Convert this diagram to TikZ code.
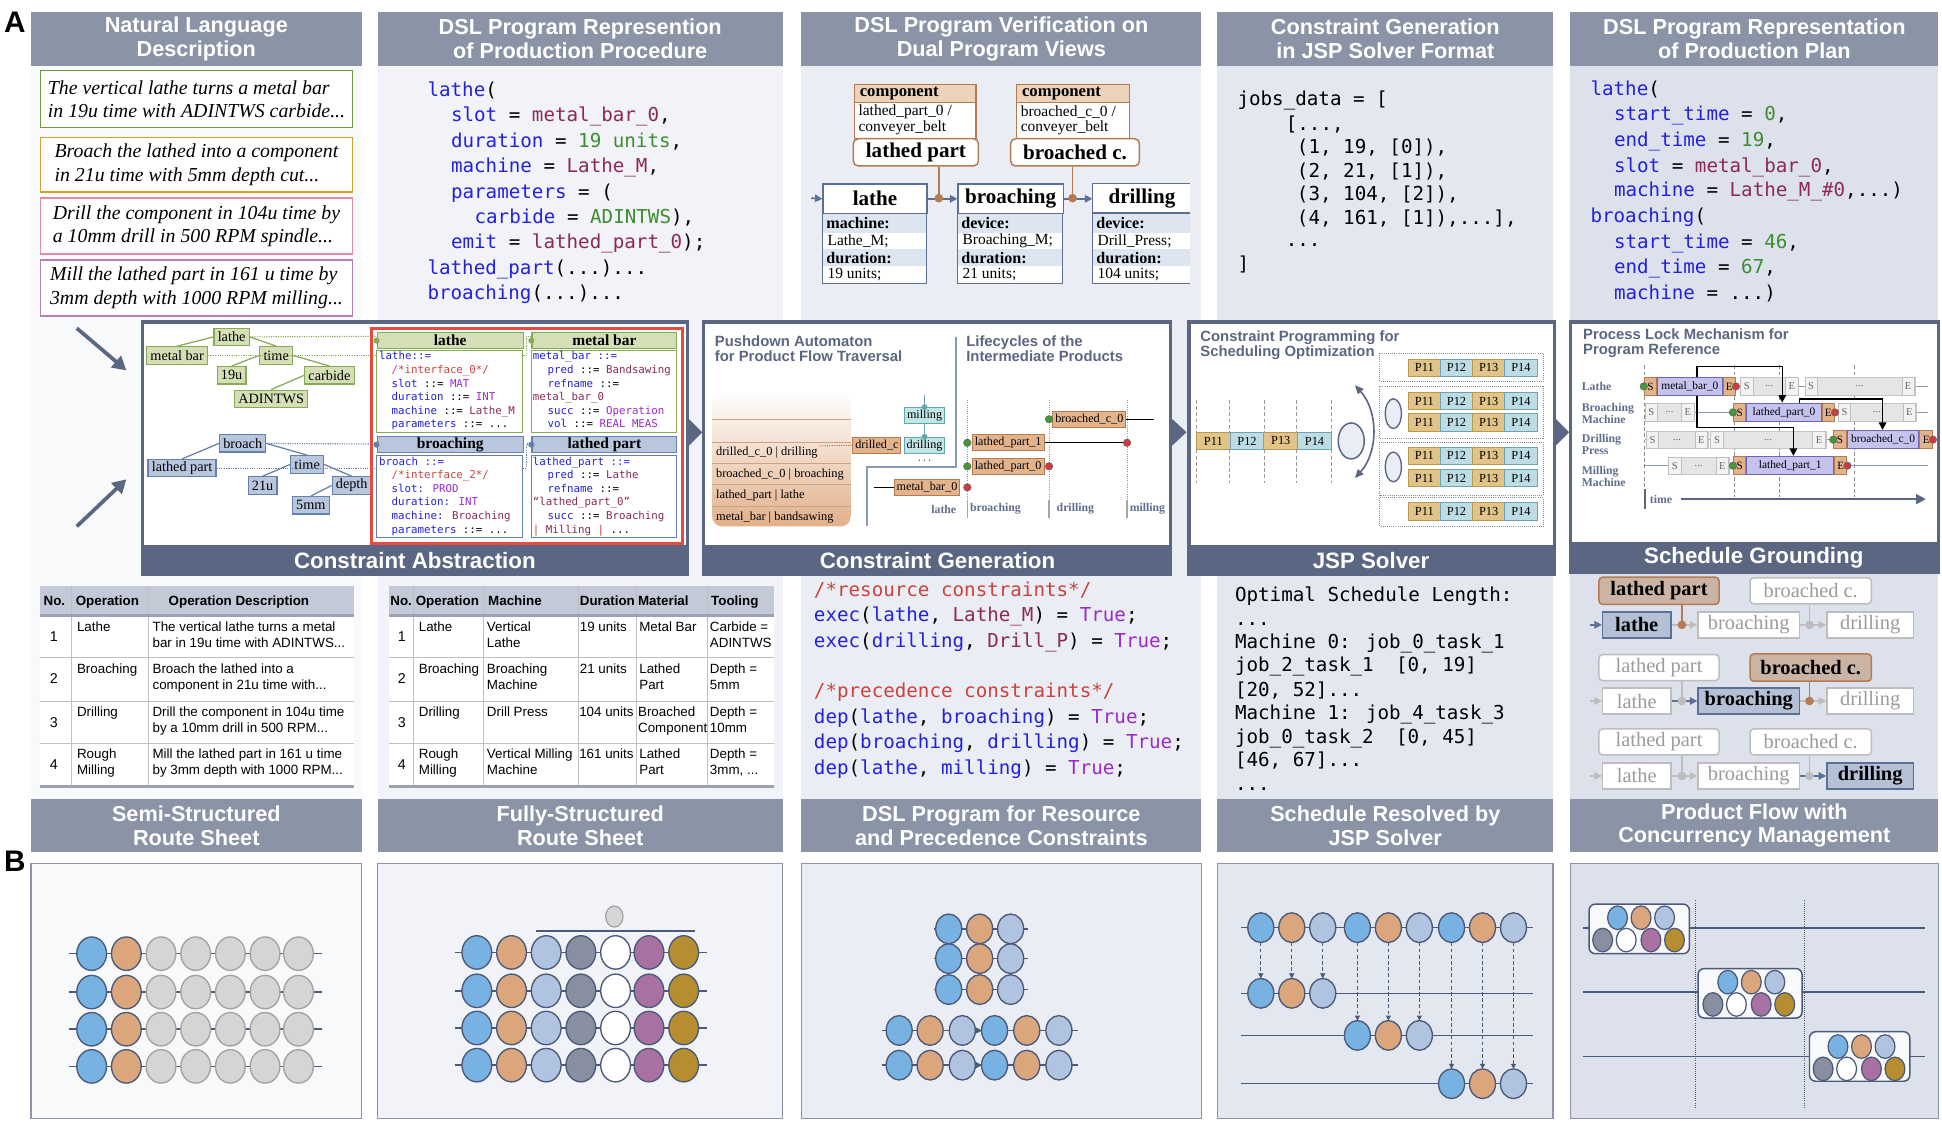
\documentclass[tikz,border=0pt]{standalone}
\usepackage{fontspec}
\setmainfont{Liberation Serif}
\newfontfamily\hsans{Liberation Sans}
\newfontfamily\mono{DejaVu Sans Mono}
\usetikzlibrary{arrows.meta,shapes.geometric,calc}
\newcommand\fsz[2]{\fontsize{#1}{#2}\selectfont}
\definecolor{hdr}{HTML}{8A94A6}
\definecolor{dark}{HTML}{5B6782}
\definecolor{bgA}{HTML}{F8F9FB}
\definecolor{bgB}{HTML}{F1F3F8}
\definecolor{bgC}{HTML}{EAEDF4}
\definecolor{bgD}{HTML}{E3E7EF}
\definecolor{bgE}{HTML}{DCE1EB}
\definecolor{kw}{HTML}{2222DD}
\definecolor{val}{HTML}{8A2A55}
\definecolor{num}{HTML}{3E8C30}
\definecolor{cmt}{HTML}{C8443C}
\definecolor{tru}{HTML}{9A2BC8}
\definecolor{gfill}{HTML}{D5DFB6}
\definecolor{gbd}{HTML}{86AA58}
\definecolor{bfill}{HTML}{B9C7DE}
\definecolor{bbd}{HTML}{6580AC}
\definecolor{tanf}{HTML}{E3B48C}
\definecolor{tanl}{HTML}{EDD3BA}
\definecolor{brn}{HTML}{B47B52}
\definecolor{teal}{HTML}{C2E5E6}
\definecolor{teald}{HTML}{62A6AF}
\definecolor{purf}{HTML}{C6C2EE}
\definecolor{purd}{HTML}{6D66B5}
\definecolor{pg}{HTML}{E2C488}
\definecolor{pgd}{HTML}{B89A52}
\definecolor{pt}{HTML}{BCDDE3}
\definecolor{ptd}{HTML}{6FA3B3}
\definecolor{flowc}{HTML}{5B7094}
\definecolor{rowf}{HTML}{DDE5F1}
\definecolor{pbd}{HTML}{5B7094}
\definecolor{thead}{HTML}{C3C9D6}
\definecolor{tline}{HTML}{9AA2B4}
\definecolor{cblue}{HTML}{78B2E3}
\definecolor{ctan}{HTML}{DCA67C}
\definecolor{cgray}{HTML}{D5D5D5}
\definecolor{clb}{HTML}{B0C3E1}
\definecolor{cslate}{HTML}{878FA0}
\definecolor{cpur}{HTML}{A871A2}
\definecolor{cgold}{HTML}{B68E30}
\definecolor{cbd}{HTML}{4C5A7A}
\definecolor{lgray}{HTML}{A3A3A3}
\definecolor{ngreen}{HTML}{3F9B35}
\definecolor{nred}{HTML}{D43838}
\definecolor{redbox}{HTML}{E84A3E}
\definecolor{lab}{HTML}{5F6E8C}
\definecolor{gtxt}{HTML}{9B9B9B}
\definecolor{gbord}{HTML}{BDBDBD}
\definecolor{tagf}{HTML}{CBB4A4}
\definecolor{pbf}{HTML}{B4C0D5}
\definecolor{nlg}{HTML}{6F9A3A}
\definecolor{nly}{HTML}{D0A030}
\definecolor{nlp}{HTML}{E48AA4}
\definecolor{nlv}{HTML}{B080B8}
\definecolor{sep}{HTML}{8A9AB0}
\definecolor{stk}{HTML}{E2B08A}
\newcommand\prow[4]{%
  \foreach \k/\cf/\cd in {1/pg/pgd,2/pt/ptd,3/pg/pgd,4/pt/ptd}{%
    \node[pcell, fill=\cf, draw=\cd, minimum width=#4] (#1\k) at ({#2+(\k-0.5)*#4},#3) {P1\k};
  }}
\newcommand\seblk[4]{%
  \node[gblk, minimum width={#3-#2}, anchor=west] (#1) at (#2,#4) {};
  \node[sebox, anchor=west] (#1s) at (#2,#4) {S};
  \node[sebox, anchor=east] (#1e) at (#3,#4) {E};
  \node[seln] (#1d) at ({(#2+#3)/2},#4) {...};}
\newcommand\task[5]{%
  \node[tsk, minimum width={#3-#2-20}, anchor=west] (#1) at ({#2+10},#4) {#5};
  \node[tbe, anchor=east] (#1s) at (#1.west) {S};
  \node[tbe, anchor=west] (#1e) at (#1.east) {E};
  \filldraw[fill=ngreen, draw=black!60, line width=0.5pt] (#1s.west) circle (3pt);
  \filldraw[fill=nred, draw=black!60, line width=0.5pt] (#1e.east) circle (3pt);}
\begin{document}
\begin{tikzpicture}[x=1pt,y=-1pt,
  hdrbox/.style={fill=hdr, text=white, font=\hsans\bfseries\fsz{17.5}{19}, align=center, inner sep=0pt, minimum height=43pt},
  ftr/.style={text=white, font=\hsans\bfseries\fsz{18}{19}, inner sep=0pt},
  nlbox/.style={draw, line width=1.3pt, fill=white, minimum width=252pt, align=left, font=\itshape\fsz{16}{19}, inner xsep=1pt, anchor=west},
  cl/.style={anchor=base west, inner sep=0pt, font=\mono\fsz{15.5}{20}},
  tc/.style={anchor=base west, inner sep=0pt, font=\mono\fsz{8.7}{10}},
  tt/.style={anchor=base west, inner sep=0pt, font=\hsans\fsz{10.8}{12}},
  th/.style={anchor=base west, inner sep=0pt, font=\hsans\bfseries\fsz{10.8}{12}},
  gnode/.style={draw=gbd, fill=gfill, line width=1pt, font=\fsz{11.5}{12}, inner xsep=3pt, inner ysep=0pt, minimum height=14pt},
  bnode/.style={draw=bbd, fill=bfill, line width=1pt, font=\fsz{11.5}{12}, inner xsep=3pt, inner ysep=0pt, minimum height=14pt},
  gline/.style={gbd, line width=1pt},
  bline/.style={bbd, line width=1pt},
  gdot/.style={gbd, line width=0.9pt, densely dotted},
  bdot/.style={bbd, line width=0.9pt, densely dotted},
  cellh/.style={line width=1pt, inner sep=0pt, minimum height=13pt, font=\bfseries\fsz{12.5}{13}, anchor=north west},
  pboxt/.style={draw=pbd, fill=white, line width=1pt, minimum height=24pt, inner sep=0pt, font=\bfseries\fsz{17}{18}, anchor=north west},
  plab/.style={anchor=west, inner sep=0pt, font=\bfseries\fsz{13}{14}},
  pval/.style={anchor=west, inner sep=0pt, font=\fsz{12.5}{13}},
  flowa/.style={draw=flowc, line width=1.3pt, -{Triangle[length=6pt,width=6pt]}},
  tag/.style={draw=brn, line width=1.2pt, rounded corners=4pt, fill=white, minimum height=22pt, inner sep=0pt, font=\bfseries\fsz{17}{18}},
  brnl/.style={draw=brn, line width=1.2pt},
  lbox/.style={fill=tanf, draw=brn, line width=0.8pt, inner xsep=2pt, inner ysep=0pt, minimum height=13pt, font=\fsz{9.8}{11}},
  tbox/.style={fill=teal, draw=teald, line width=0.8pt, inner xsep=2pt, inner ysep=0pt, minimum height=13pt, font=\fsz{9.8}{11}},
  stxt/.style={anchor=west, inner sep=0pt, font=\fsz{10}{11}},
  ttl/.style={anchor=west, inner sep=0pt, align=left, text=dark, font=\hsans\bfseries\fsz{12}{12.5}},
  llab/.style={inner sep=0pt, text=lab, font=\bfseries\fsz{9.5}{10}},
  pcell/.style={line width=0.8pt, minimum height=14pt, inner sep=0pt, font=\fsz{10}{11}},
  gblk/.style={fill=black!10, draw=black!22, line width=0.6pt, minimum height=14pt, inner sep=0pt},
  sebox/.style={fill=black!5, draw=black!25, line width=0.6pt, minimum height=14pt, minimum width=10pt, inner sep=0pt, font=\fsz{8.5}{9}, text=black!60},
  seln/.style={inner sep=0pt, font=\fsz{8.5}{9}, text=black!60},
  tsk/.style={fill=purf, draw=purd, line width=0.8pt, minimum height=15pt, inner sep=0pt, font=\fsz{9.2}{10}},
  tbe/.style={fill=tanf, draw=brn, line width=0.8pt, minimum height=15pt, minimum width=10pt, inner sep=0pt, font=\fsz{9}{10}},
  rlab/.style={anchor=west, inner sep=0pt, align=left, text=lab, font=\bfseries\fsz{9.5}{9.5}},
  lock/.style={draw=black, line width=1.2pt, -{Triangle[length=6pt,width=6pt]}},
  tagon/.style={draw=brn, fill=tagf, line width=1.2pt, rounded corners=3pt, font=\bfseries\fsz{16.5}{17}, minimum height=22pt, inner sep=0pt},
  tagoff/.style={draw=gbord, fill=white, line width=1.2pt, rounded corners=3pt, font=\fsz{16.5}{17}, text=gtxt, minimum height=21pt, inner sep=0pt},
  boxon/.style={draw=pbd, fill=pbf, line width=1.2pt, font=\bfseries\fsz{16.5}{17}, minimum height=21pt, inner sep=0pt},
  boxoff/.style={draw=gbord, fill=white, line width=1.2pt, font=\fsz{16.5}{17}, text=gtxt, minimum height=21pt, inner sep=0pt},
  bla/.style={draw=flowc, line width=1.2pt, -{Triangle[length=6pt,width=6pt]}},
  gla/.style={draw=gbord, line width=1.2pt, -{Triangle[length=6pt,width=6pt]}},
  grl/.style={draw=gbord, line width=1.2pt},
]
\useasboundingbox (0,0) rectangle (1568,911);
\fill[white] (0,0) rectangle (1568,911);

% column backgrounds
\fill[bgA] (25,53) rectangle (292,645);
\fill[bgB] (305,53) rectangle (632,645);
\fill[bgC] (647,53) rectangle (970,645);
\fill[bgD] (983,53) rectangle (1254,645);
\fill[bgE] (1268,53) rectangle (1565,645);

% labels A B
\node[font=\hsans\bfseries\fsz{24}{24}, inner sep=0pt] (labA) at (12,18) {A};
\node[font=\hsans\bfseries\fsz{24}{24}, inner sep=0pt] (labB) at (12,695) {B};

% top headers
\node[hdrbox, minimum width=267pt] (h1) at (158.5,31.5) {Natural Language\\Description};
\node[hdrbox, minimum width=327pt] (h2) at (468.5,31.5) {DSL Program Represention\\of Production Procedure};
\node[hdrbox, minimum width=323pt] (h3) at (808.5,31.5) {DSL Program Verification on\\Dual Program Views};
\node[hdrbox, minimum width=271pt] (h4) at (1118.5,31.5) {Constraint Generation\\in JSP Solver Format};
\node[hdrbox, minimum width=297pt] (h5) at (1416.5,31.5) {DSL Program Representation\\of Production Plan};

% bottom headers
\node[hdrbox, minimum width=267pt] (g1) at (158.5,666.5) {Semi-Structured\\Route Sheet};
\node[hdrbox, minimum width=327pt] (g2) at (468.5,666.5) {Fully-Structured\\Route Sheet};
\node[hdrbox, minimum width=323pt] (g3) at (808.5,666.5) {DSL Program for Resource\\and Precedence Constraints};
\node[hdrbox, minimum width=271pt] (g4) at (1118.5,666.5) {Schedule Resolved by\\JSP Solver};
\node[hdrbox, minimum width=297pt] (g5) at (1416.5,666.5) {Product Flow with\\Concurrency Management};

% ---------- panel 1 natural language
\node[nlbox, draw=nlg, minimum height=46pt] (n1) at (32,80) {The vertical lathe turns a metal bar\\in 19u time with ADINTWS carbide...};
\node[nlbox, draw=nly, minimum height=44pt] (n2) at (32,133) {Broach the lathed into a component\\in 21u time with 5mm depth cut...};
\node[nlbox, draw=nlp, minimum height=45pt] (n3) at (32,182.5) {Drill the component in 104u time by\\a 10mm drill in 500 RPM spindle...};
\node[nlbox, draw=nlv, minimum height=45pt] (n4) at (32,232.5) {Mill the lathed part in 161 u time by\\3mm depth with 1000 RPM milling...};

% ---------- panel 2 code
\node[cl] (c2a) at (345,78) {\textcolor{kw}{lathe}(};
\node[cl] (c2b) at (364,98.5) {\textcolor{kw}{slot} = \textcolor{val}{metal\_bar\_0},};
\node[cl] (c2c) at (364,119) {\textcolor{kw}{duration} = \textcolor{num}{19 units},};
\node[cl] (c2d) at (364,139.5) {\textcolor{kw}{machine} = \textcolor{val}{Lathe\_M},};
\node[cl] (c2e) at (364,160) {\textcolor{kw}{parameters} = (};
\node[cl] (c2f) at (383,180.5) {\textcolor{kw}{carbide} = \textcolor{num}{ADINTWS}),};
\node[cl] (c2g) at (364,201) {\textcolor{kw}{emit} = \textcolor{val}{lathed\_part\_0});};
\node[cl] (c2h) at (345,221.5) {\textcolor{kw}{lathed\_part}(...)...};
\node[cl] (c2i) at (345,242) {\textcolor{kw}{broaching}(...)...};

% ---------- panel 3 verification
\draw[brn, line width=0.9pt, fill=white] (690,68) rectangle (788,112);
\draw[brn, line width=0.9pt, fill=tanl] (690,68) rectangle (788,83);
\node[anchor=west, inner sep=0pt, font=\bfseries\fsz{13.5}{14}] (c1h) at (694,75.5) {component};
\node[anchor=west, inner sep=0pt, font=\fsz{12.5}{13}] (c1a) at (693,90.5) {lathed\_part\_0 /};
\node[anchor=west, inner sep=0pt, font=\fsz{12.5}{13}] (c1b) at (693,103) {conveyer\_belt};
\draw[brn, line width=0.9pt, fill=white] (821,68) rectangle (912,112);
\draw[brn, line width=0.9pt, fill=tanl] (821,68) rectangle (912,83);
\node[anchor=west, inner sep=0pt, font=\bfseries\fsz{13.5}{14}] (c2hh) at (825,75.5) {component};
\node[anchor=west, inner sep=0pt, font=\fsz{12.5}{13}] (c2aa) at (824,90.5) {broached\_c\_0 /};
\node[anchor=west, inner sep=0pt, font=\fsz{12.5}{13}] (c2bb) at (824,103) {conveyer\_belt};
\node[tag, minimum width=101pt] (lp) at (739.5,123) {lathed part};
\node[tag, minimum width=104pt] (bc) at (868,123) {broached c.};

% lathe box
\fill[rowf] (664,172) rectangle (748,188);
\fill[rowf] (664,201) rectangle (748,215);
\fill[white] (664,188) rectangle (748,201);
\fill[white] (664,215) rectangle (748,229);
\draw[pbd, line width=1pt] (664,172) rectangle (748,229);
\node[pboxt, minimum width=84pt] (pl) at (664,148) {lathe};
\node[plab] (pl1) at (667,180) {machine:};
\node[pval] (pl2) at (668,194.5) {Lathe\_M;};
\node[plab] (pl3) at (667,208) {duration:};
\node[pval] (pl4) at (668,222) {19 units;};
% broaching box
\fill[rowf] (773,172) rectangle (858,188);
\fill[rowf] (773,201) rectangle (858,215);
\fill[white] (773,188) rectangle (858,201);
\fill[white] (773,215) rectangle (858,229);
\draw[pbd, line width=1pt] (773,172) rectangle (858,229);
\node[pboxt, minimum width=85pt] (pb) at (773,148) {broaching};
\node[plab] (pb1) at (776,180) {device:};
\node[pval] (pb2) at (777,194.5) {Broaching\_M;};
\node[plab] (pb3) at (776,208) {duration:};
\node[pval] (pb4) at (777,222) {21 units;};
% drilling box (cut at right)
\fill[rowf] (882,172) rectangle (961,188);
\fill[rowf] (882,201) rectangle (961,215);
\fill[white] (882,148) rectangle (961,172);
\fill[white] (882,188) rectangle (961,201);
\fill[white] (882,215) rectangle (961,229);
\draw[pbd, line width=1pt] (961,148) -- (882,148) -- (882,229) -- (961,229);
\draw[pbd, line width=1pt] (882,172) -- (961,172);
\node[pboxt, draw=none, fill=none, minimum width=79pt] (pd) at (882,148) {drilling};
\node[plab] (pd1) at (885,180) {device:};
\node[pval] (pd2) at (886,194.5) {Drill\_Press;};
\node[plab] (pd3) at (885,208) {duration:};
\node[pval] (pd4) at (886,222) {104 units;};
\coordinate (in3) at (655,160);
\coordinate (j1) at (758,160);
\coordinate (j2) at (866,160);
\draw[flowa] (in3) -- (pl.west);
\draw[flowa] (pl.east) -- (pb.west);
\draw[flowa] (pb.east) -- (pd.west);
\draw[brnl] (j1 |- lp.south) -- (j1);
\draw[brnl] (j2 |- bc.south) -- (j2);
\fill[brn] (j1) circle (3.5pt);
\fill[brn] (j2) circle (3.5pt);

% ---------- panel 4 code
\node[cl] (c4a) at (999,85) {jobs\_data = [};
\node[cl] (c4b) at (1038,105) {[...,};
\node[cl] (c4c) at (1047,124) {(1, 19, [0]),};
\node[cl] (c4d) at (1047,143) {(2, 21, [1]),};
\node[cl] (c4e) at (1047,162) {(3, 104, [2]),};
\node[cl] (c4f) at (1047,181) {(4, 161, [1]),...],};
\node[cl] (c4g) at (1038,199) {...};
\node[cl] (c4h) at (999,218) {]};

% ---------- panel 5 code
\node[cl] (c5a) at (1284,77) {\textcolor{kw}{lathe}(};
\node[cl] (c5b) at (1303,97.5) {\textcolor{kw}{start\_time} = \textcolor{num}{0},};
\node[cl] (c5c) at (1303,118) {\textcolor{kw}{end\_time} = \textcolor{num}{19},};
\node[cl] (c5d) at (1303,139) {\textcolor{kw}{slot} = \textcolor{val}{metal\_bar\_0},};
\node[cl] (c5e) at (1303,159) {\textcolor{kw}{machine} = \textcolor{val}{Lathe\_M\_\#0},...)};
\node[cl] (c5f) at (1284,180) {\textcolor{kw}{broaching}(};
\node[cl] (c5g) at (1303,200.5) {\textcolor{kw}{start\_time} = \textcolor{num}{46},};
\node[cl] (c5h) at (1303,220.5) {\textcolor{kw}{end\_time} = \textcolor{num}{67},};
\node[cl] (c5i) at (1303,241.5) {\textcolor{kw}{machine} = ...)};

% ---------- left arrows
\coordinate (la1) at (62,265);
\coordinate (la2) at (102,299);
\coordinate (la3) at (62,425);
\coordinate (la4) at (102,387);
\draw[dark, line width=3pt, -{Triangle[length=11pt,width=12pt]}] (la1) -- (la2);
\draw[dark, line width=3pt, -{Triangle[length=11pt,width=12pt]}] (la3) -- (la4);

% ---------- middle box 1: Constraint Abstraction
\draw[dark, line width=2.5pt, fill=white] (115,260) rectangle (555,464);
\fill[dark] (115,440) rectangle (555,465);
\node[ftr] (f1) at (335,452.5) {Constraint Abstraction};
% trees
\node[gnode] (tlathe) at (187,272) {lathe};
\node[gnode] (tmetal) at (143,287) {metal bar};
\node[gnode] (ttime) at (223,287) {time};
\node[gnode] (t19) at (187,303) {19u};
\node[gnode] (tcarb) at (266,303) {carbide};
\node[gnode] (tadin) at (219,322) {ADINTWS};
\node[bnode] (tbroach) at (196,358) {broach};
\node[bnode] (tlp) at (147,378) {lathed part};
\node[bnode] (ttime2) at (248,375) {time};
\node[bnode] (t21) at (212,392) {21u};
\node[bnode] (tdepth) at (284,392) {depth};
\node[bnode] (t5) at (251,408) {5mm};
\draw[gline] (tlathe.west) -- (tmetal.north);
\draw[gline] (tlathe.east) -- (ttime.north);
\draw[gline] (ttime.west) -- (t19.north);
\draw[gline] (ttime.east) -- (tcarb.north);
\draw[gline] (tcarb.west) -- (tadin.north);
\draw[bline] (tbroach.west) -- (tlp.north);
\draw[bline] (tbroach.east) -- (ttime2.north);
\draw[bline] (ttime2.west) -- (t21.north);
\draw[bline] (ttime2.east) -- (tdepth.north);
\draw[bline] (tdepth.west) -- (t5.north);
% dotted links
\coordinate (dk1) at (425,287);
\coordinate (dk2) at (425,271.5);
\coordinate (dk3) at (425,378);
\coordinate (dk4) at (425,358.5);
\draw[gdot] (tlathe.east) -- (305,271.5);
\draw[gdot] (tmetal.east) -- (dk1) -- (dk2) -- (429,271.5);
\draw[bdot] (tbroach.east) -- (305,358.5);
\draw[bdot] (tlp.east) -- (dk3) -- (dk4) -- (429,358.5);
% cells
\draw[gbd, line width=1pt, fill=white] (304,283) rectangle (422,349);
\draw[gbd, line width=1pt, fill=white] (429,283) rectangle (546,349);
\draw[bbd, line width=1pt, fill=white] (304,368) rectangle (422,434);
\draw[bbd, line width=1pt, fill=white] (429,368) rectangle (546,434);
\node[cellh, draw=gbd, fill=gfill, minimum width=118pt] (ch1) at (304,268) {lathe};
\node[cellh, draw=gbd, fill=gfill, minimum width=117pt] (ch2) at (429,268) {metal bar};
\node[cellh, draw=bbd, fill=bfill, minimum width=118pt] (ch3) at (304,352) {broaching};
\node[cellh, draw=bbd, fill=bfill, minimum width=117pt] (ch4) at (429,352) {lathed part};
\fill[gbd] (ch1.west) circle (2.5pt);
\fill[gbd] (ch2.west) circle (2.5pt);
\fill[bbd] (ch3.west) circle (2.5pt);
\fill[bbd] (ch4.west) circle (2.5pt);
\draw[redbox, line width=2.5pt] (300,265) rectangle (551,439);
% tiny code
\node[tc] (ka1) at (306,290.5) {\textcolor{kw}{lathe::=}};
\node[tc] (ka2) at (316,301.5) {\textcolor{cmt}{/*interface\_0*/}};
\node[tc] (ka3) at (316,312.5) {\textcolor{kw}{slot} ::= \textcolor{tru}{MAT}};
\node[tc] (ka4) at (316,323.5) {\textcolor{kw}{duration} ::= \textcolor{tru}{INT}};
\node[tc] (ka5) at (316,334.5) {\textcolor{kw}{machine} ::= \textcolor{val}{Lathe\_M}};
\node[tc] (ka6) at (316,345.5) {\textcolor{kw}{parameters} ::= ...};
\node[tc] (kb1) at (430,290.5) {\textcolor{kw}{metal\_bar ::=}};
\node[tc] (kb2) at (442,301.5) {\textcolor{kw}{pred} ::= \textcolor{val}{Bandsawing}};
\node[tc] (kb3) at (442,312.5) {\textcolor{kw}{refname} ::=};
\node[tc] (kb4) at (430,323.5) {\textcolor{val}{metal\_bar\_0}};
\node[tc] (kb5) at (442,334.5) {\textcolor{kw}{succ} ::= \textcolor{tru}{Operation}};
\node[tc] (kb6) at (442,345.5) {\textcolor{kw}{vol} ::= \textcolor{tru}{REAL MEAS}};
\node[tc] (kc1) at (306,375.5) {\textcolor{kw}{broach ::=}};
\node[tc] (kc2) at (316,386.5) {\textcolor{cmt}{/*interface\_2*/}};
\node[tc] (kc3) at (316,397.5) {\textcolor{kw}{slot:} \textcolor{tru}{PROD}};
\node[tc] (kc4) at (316,408.5) {\textcolor{kw}{duration:} \textcolor{tru}{INT}};
\node[tc] (kc5) at (316,419.5) {\textcolor{kw}{machine:} \textcolor{val}{Broaching}};
\node[tc] (kc6) at (316,430.5) {\textcolor{kw}{parameters} ::= ...};
\node[tc] (kd1) at (430,375.5) {\textcolor{kw}{lathed\_part ::=}};
\node[tc] (kd2) at (442,386.5) {\textcolor{kw}{pred} ::= \textcolor{val}{Lathe}};
\node[tc] (kd3) at (442,397.5) {\textcolor{kw}{refname} ::=};
\node[tc] (kd4) at (430,408.5) {\textcolor{val}{“lathed\_part\_0”}};
\node[tc] (kd5) at (442,419.5) {\textcolor{kw}{succ} ::= \textcolor{val}{Broaching}};
\node[tc] (kd6) at (430,430.5) {\textcolor{cmt}{|} \textcolor{val}{Milling} \textcolor{cmt}{|} ...};

% ---------- middle box 2: Constraint Generation
\draw[dark, line width=2.5pt, fill=white] (568,260) rectangle (945,464);
\fill[dark] (568,440) rectangle (945,465);
\node[ftr] (f2) at (757,452.5) {Constraint Generation};
\node[ttl] (tt1) at (577,281.5) {Pushdown Automaton\\for Product Flow Traversal};
\node[ttl] (tt2) at (780,281.5) {Lifecycles of the\\Intermediate Products};
\draw[sep, line width=1.2pt] (772,272) -- (772,377) -- (700,377) -- (700,425);
\shade[top color=white, bottom color=stk, rounded corners=8pt] (575,316) rectangle (687,425);
\foreach \yy in {339,357,374,391,409}{\draw[brn!70, line width=0.8pt] (575,\yy) -- (687,\yy);}
\node[stxt] (s1) at (578,365.5) {drilled\_c\_0 | drilling};
\node[stxt] (s2) at (578,383) {broached\_c\_0 | broaching};
\node[stxt] (s3) at (578,400) {lathed\_part | lathe};
\node[stxt] (s4) at (578,418) {metal\_bar | bandsawing};
\node[lbox] (dc) at (708,359.5) {drilled\_c};
\node[tbox] (mil) at (746.5,335.5) {milling};
\node[tbox] (drl) at (746.5,359.5) {drilling};
\coordinate (dcs) at (662,360);
\coordinate (mtop) at (746.5,319);
\draw[brn, line width=0.9pt, densely dotted] (dcs) -- (dc.west);
\draw[teald, line width=1pt] (mtop) -- (mil.north);
\draw[teald, line width=1pt] (mil.south) -- (drl.north);
\fill[teald] (mil.north) circle (2.3pt);
\fill[teald] (drl.north) circle (2.3pt);
\node[inner sep=0pt, font=\fsz{9}{9}] (dots1) at (746.5,372) {$\cdots$};
\foreach \xx in {781,847,910}{\draw[black!40, line width=0.8pt, densely dotted] (\xx,323) -- (\xx,405);}
\foreach \xx in {781,847,910}{\draw[black!35, line width=1pt] (\xx,404) -- (\xx,418);}
\node[llab] (ll1) at (762,411) {lathe};
\node[llab, anchor=west] (ll2) at (783,411) {broaching};
\node[llab, anchor=west] (ll3) at (853,411) {drilling};
\node[llab, anchor=west] (ll4) at (912,411) {milling};
\node[lbox] (mb0) at (748.5,393.5) {metal\_bar\_0};
\node[lbox] (lp0) at (814,376.5) {lathed\_part\_0};
\node[lbox] (lp1) at (814,357.5) {lathed\_part\_1};
\node[lbox] (bc0) at (879.5,338.5) {broached\_c\_0};
\coordinate (mbs) at (706,393.5);
\coordinate (lp1e) at (910,357.5);
\coordinate (bc0e) at (932,338.5);
\draw[black, line width=0.9pt] (mbs) -- (mb0.west);
\draw[black, line width=0.9pt] (lp1.east) -- (lp1e);
\draw[black, line width=0.9pt] (bc0.east) -- (bc0e);
\filldraw[fill=nred, draw=black!60, line width=0.5pt] (781,393.5) circle (3pt);
\filldraw[fill=ngreen, draw=black!60, line width=0.5pt] (781,376.5) circle (3pt);
\filldraw[fill=nred, draw=black!60, line width=0.5pt] (847,376.5) circle (3pt);
\filldraw[fill=ngreen, draw=black!60, line width=0.5pt] (781,357.5) circle (3pt);
\filldraw[fill=nred, draw=black!60, line width=0.5pt] (lp1e) circle (3pt);
\filldraw[fill=ngreen, draw=black!60, line width=0.5pt] (847,338.5) circle (3pt);

% ---------- middle box 3: JSP Solver
\draw[dark, line width=2.5pt, fill=white] (960,260) rectangle (1255,464);
\fill[dark] (960,440) rectangle (1255,465);
\node[ftr] (f3) at (1107,452.5) {JSP Solver};
\node[ttl, font=\hsans\bfseries\fsz{12}{12}] (tt3) at (969,278.5) {Constraint Programming for\\Scheduling Optimization};
\foreach \xx in {966,993,1021,1047,1075}{\draw[black!40, line width=0.7pt, densely dashed] (\xx,323) -- (\xx,390);}
\prow{pa}{966}{356}{27.25}
\draw[dark, line width=1.2pt, fill=bgC] (1091,356) ellipse (10.5pt and 14.5pt);
\draw[dark, line width=1.3pt, {Triangle[length=7pt,width=6pt]}-{Triangle[length=7pt,width=6pt]}] (1094,311) .. controls (1113,332) and (1113,365) .. (1094,386);
\draw[black!45, line width=0.7pt, densely dotted] (1114,285) rectangle (1246,308);
\draw[black!45, line width=0.7pt, densely dotted] (1114,312) rectangle (1246,354);
\draw[black!45, line width=0.7pt, densely dotted] (1114,357) rectangle (1246,400);
\draw[black!45, line width=0.7pt, densely dotted] (1114,402) rectangle (1246,425);
\draw[dark, line width=1.1pt, fill=bgC] (1125,334) ellipse (6.5pt and 12pt);
\draw[dark, line width=1.1pt, fill=bgC] (1125,377) ellipse (6.5pt and 12pt);
\prow{pb}{1137}{297}{26}
\prow{pc}{1137}{324}{26}
\prow{pd}{1137}{341}{26}
\prow{pe}{1137}{368}{26}
\prow{pf}{1137}{386}{26}
\prow{ph}{1137}{413}{26}

% ---------- middle box 4: Schedule Grounding
\draw[dark, line width=2.5pt, fill=white] (1268,260) rectangle (1565,462);
\fill[dark] (1268,438) rectangle (1565,463);
\node[ftr] (f4) at (1416,450) {Schedule Grounding};
\node[ttl, font=\hsans\bfseries\fsz{12}{12}] (tt4) at (1278,277) {Process Lock Mechanism for\\Program Reference};
\node[rlab] (r1) at (1277,312) {Lathe};
\node[rlab] (r2) at (1277,334) {Broaching\\Machine};
\node[rlab] (r3) at (1277,359) {Drilling\\Press};
\node[rlab] (r4) at (1277,385) {Milling\\Machine};
\foreach \xx in {1328,1400,1437,1497}{\draw[black!45, line width=0.7pt, densely dashed] (\xx,295) -- (\xx,401);}
\foreach \yy in {312,333,355,376}{\draw[sep, line width=1.2pt] (1328,\yy) -- (1557,\yy);}
\seblk{sg1}{1405}{1452}{312}
\seblk{sg2}{1457}{1546}{312}
\seblk{sg3}{1328}{1368}{333}
\seblk{sg4}{1484}{1547}{333}
\seblk{sg5}{1329}{1379}{355}
\seblk{sg6}{1381}{1474}{355}
\seblk{sg7}{1347}{1396}{376}
\task{tm}{1328}{1400}{312}{metal\_bar\_0}
\task{tl0}{1400}{1480}{333}{lathed\_part\_0}
\task{tbc}{1481}{1559}{355}{broached\_c\_0}
\task{tl1}{1400}{1490}{376}{lathed\_part\_1}
\coordinate (k1) at (1370,296);
\coordinate (k2) at (1439,296);
\coordinate (k3) at (1453,322);
\coordinate (k4) at (1520,322);
\coordinate (k5) at (1370,345);
\coordinate (k6) at (1448,345);
\draw[lock] (k1 |- tm.north) -- (k1) -- (k2) -- (k2 |- tl0.north);
\draw[lock] (k3 |- tl0.north) -- (k3) -- (k4) -- (k4 |- tbc.north);
\draw[lock] (k5 |- tm.south) -- (k5) -- (k6) -- (k6 |- tl1.north);
\coordinate (ta1) at (1357,403);
\coordinate (ta2) at (1555,403);
\draw[black!60, line width=1.2pt] (1328,395) -- (1328,411);
\node[anchor=west, inner sep=0pt, text=lab, font=\bfseries\fsz{9.5}{10}] (tlab) at (1332,403) {time};
\draw[dark, line width=1.5pt, -{Triangle[length=8pt,width=8pt]}] (ta1) -- (ta2);

% arrows between middle boxes
\fill[dark] (555,337) -- (567,349) -- (555,361) -- cycle;
\fill[dark] (945,337) -- (958,349) -- (945,361) -- cycle;
\fill[dark] (1255,337) -- (1267,349) -- (1255,361) -- cycle;

% ---------- table 1
\fill[thead] (32,473) rectangle (286,497);
\fill[white] (32,497) rectangle (286,635);
\foreach \xx in {58,120}{\draw[black!25, line width=0.6pt] (\xx,473) -- (\xx,635);}
\foreach \yy in {531,566,600}{\draw[black!25, line width=0.8pt] (32,\yy) -- (286,\yy);}
\draw[tline, line width=2pt] (32,497) -- (286,497);
\draw[tline, line width=2pt] (32,635) -- (286,635);
\node[th] (t1h1) at (35,489) {No.};
\node[th] (t1h2) at (61,489) {Operation};
\node[th] (t1h3) at (136,489) {Operation Description};
\node[tt, font=\hsans\fsz{11.5}{12}] (t1n1) at (40,518) {1};
\node[tt, font=\hsans\fsz{11.5}{12}] (t1n2) at (40,552) {2};
\node[tt, font=\hsans\fsz{11.5}{12}] (t1n3) at (40,587) {3};
\node[tt, font=\hsans\fsz{11.5}{12}] (t1n4) at (40,621) {4};
\node[tt] (t1o1) at (62,509.5) {Lathe};
\node[tt] (t1o2) at (62,543.5) {Broaching};
\node[tt] (t1o3) at (62,578.5) {Drilling};
\node[tt] (t1o4) at (62,612.5) {Rough};
\node[tt] (t1o4b) at (62,625.5) {Milling};
\node[tt] (t1d1) at (123,509.5) {The vertical lathe turns a metal};
\node[tt] (t1d1b) at (123,522.5) {bar in 19u time with ADINTWS...};
\node[tt] (t1d2) at (123,543.5) {Broach the lathed into a};
\node[tt] (t1d2b) at (123,556.5) {component in 21u time with...};
\node[tt] (t1d3) at (123,578.5) {Drill the component in 104u time};
\node[tt] (t1d3b) at (123,591.5) {by a 10mm drill in 500 RPM...};
\node[tt] (t1d4) at (123,612.5) {Mill the lathed part in 161 u time};
\node[tt] (t1d4b) at (123,625.5) {by 3mm depth with 1000 RPM...};

% ---------- table 2
\fill[thead] (314,473) rectangle (625,497);
\fill[white] (314,497) rectangle (625,635);
\foreach \xx in {334,390,467,514,571}{\draw[black!25, line width=0.6pt] (\xx,473) -- (\xx,635);}
\foreach \yy in {531,566,600}{\draw[black!25, line width=0.8pt] (314,\yy) -- (625,\yy);}
\draw[tline, line width=2pt] (314,497) -- (625,497);
\draw[tline, line width=2pt] (314,635) -- (625,635);
\node[th] (t2h1) at (315,489) {No.};
\node[th] (t2h2) at (335.5,489) {Operation};
\node[th] (t2h3) at (394,489) {Machine};
\node[th] (t2h4) at (468,489) {Duration};
\node[th] (t2h5) at (515,489) {Material};
\node[th] (t2h6) at (574,489) {Tooling};
\node[tt, font=\hsans\fsz{11.5}{12}] (t2n1) at (321,518) {1};
\node[tt, font=\hsans\fsz{11.5}{12}] (t2n2) at (321,552) {2};
\node[tt, font=\hsans\fsz{11.5}{12}] (t2n3) at (321,587) {3};
\node[tt, font=\hsans\fsz{11.5}{12}] (t2n4) at (321,621) {4};
\node[tt] (t2o1) at (338,509.5) {Lathe};
\node[tt] (t2o2) at (338,543.5) {Broaching};
\node[tt] (t2o3) at (338,578.5) {Drilling};
\node[tt] (t2o4) at (338,612.5) {Rough};
\node[tt] (t2o4b) at (338,625.5) {Milling};
\node[tt] (t2m1) at (393,509.5) {Vertical};
\node[tt] (t2m1b) at (393,522.5) {Lathe};
\node[tt] (t2m2) at (393,543.5) {Broaching};
\node[tt] (t2m2b) at (393,556.5) {Machine};
\node[tt] (t2m3) at (393,578.5) {Drill Press};
\node[tt] (t2m4) at (393,612.5) {Vertical Milling};
\node[tt] (t2m4b) at (393,625.5) {Machine};
\node[tt] (t2u1) at (468,509.5) {19 units};
\node[tt] (t2u2) at (468,543.5) {21 units};
\node[tt] (t2u3) at (467.5,578.5) {104 units};
\node[tt] (t2u4) at (467.5,612.5) {161 units};
\node[tt] (t2a1) at (516,509.5) {Metal Bar};
\node[tt] (t2a2) at (516,543.5) {Lathed};
\node[tt] (t2a2b) at (516,556.5) {Part};
\node[tt] (t2a3) at (515,578.5) {Broached};
\node[tt] (t2a3b) at (515,591.5) {Component};
\node[tt] (t2a4) at (516,612.5) {Lathed};
\node[tt] (t2a4b) at (516,625.5) {Part};
\node[tt] (t2t1) at (573,509.5) {Carbide =};
\node[tt] (t2t1b) at (573,522.5) {ADINTWS};
\node[tt] (t2t2) at (573,543.5) {Depth =};
\node[tt] (t2t2b) at (573,556.5) {5mm};
\node[tt] (t2t3) at (573,578.5) {Depth =};
\node[tt] (t2t3b) at (573,591.5) {10mm};
\node[tt] (t2t4) at (573,612.5) {Depth =};
\node[tt] (t2t4b) at (573,625.5) {3mm, ...};

% ---------- lower panel 3 code
\node[cl] (c6a) at (657,482) {\textcolor{cmt}{/*resource constraints*/}};
\node[cl] (c6b) at (657,502) {\textcolor{kw}{exec}(\textcolor{kw}{lathe}, \textcolor{val}{Lathe\_M}) = \textcolor{tru}{True};};
\node[cl] (c6c) at (657,522.5) {\textcolor{kw}{exec}(\textcolor{kw}{drilling}, \textcolor{val}{Drill\_P}) = \textcolor{tru}{True};};
\node[cl] (c6d) at (657,563.5) {\textcolor{cmt}{/*precedence constraints*/}};
\node[cl] (c6e) at (657,584) {\textcolor{kw}{dep}(\textcolor{kw}{lathe}, \textcolor{kw}{broaching}) = \textcolor{tru}{True};};
\node[cl] (c6f) at (657,604.5) {\textcolor{kw}{dep}(\textcolor{kw}{broaching}, \textcolor{kw}{drilling}) = \textcolor{tru}{True};};
\node[cl] (c6g) at (657,625) {\textcolor{kw}{dep}(\textcolor{kw}{lathe}, \textcolor{kw}{milling}) = \textcolor{tru}{True};};

% ---------- lower panel 4 text
\node[cl] (c7a) at (997,486) {Optimal Schedule Length:};
\node[cl] (c7b) at (997,505) {...};
\node[cl] (c7c) at (997,523.5) {Machine 0: job\_0\_task\_1};
\node[cl] (c7d) at (997,542.5) {job\_2\_task\_1\hspace{18pt}[0, 19]};
\node[cl] (c7e) at (997,562) {[20, 52]...};
\node[cl] (c7f) at (997,581) {Machine 1: job\_4\_task\_3};
\node[cl] (c7g) at (997,600) {job\_0\_task\_2\hspace{18pt}[0, 45]};
\node[cl] (c7h) at (997,619) {[46, 67]...};
\node[cl] (c7i) at (997,638) {...};

% ---------- lower panel 5 product flow
% row 1
\node[tagon, minimum width=97pt] (f1lp) at (1339.5,477) {lathed part};
\node[tagoff, minimum width=98pt] (f1bc) at (1462,477) {broached c.};
\node[boxon, minimum width=55pt] (f1la) at (1321.5,504.5) {lathe};
\node[boxoff, minimum width=82pt] (f1br) at (1412,504.5) {broaching};
\node[boxoff, minimum width=70pt] (f1dr) at (1510,504.5) {drilling};
\coordinate (f1in) at (1284,504.5);
\coordinate (f1j1) at (1358,504.5);
\coordinate (f1j2) at (1461,504.5);
\draw[bla] (f1in) -- (f1la.west);
\draw[gla] (f1la.east) -- (f1br.west);
\draw[gla] (f1br.east) -- (f1dr.west);
\draw[brnl] (f1j1 |- f1lp.south) -- (f1j1);
\draw[grl] (f1j2 |- f1bc.south) -- (f1j2);
\fill[brn] (f1j1) circle (3.5pt);
\fill[gbord] (f1j2) circle (3.5pt);
% row 2
\node[tagoff, minimum width=97pt] (f2lp) at (1339.5,539) {lathed part};
\node[tagon, minimum width=98pt] (f2bc) at (1462,539) {broached c.};
\node[boxoff, minimum width=55pt] (f2la) at (1321.5,566) {lathe};
\node[boxon, minimum width=82pt] (f2br) at (1412,566) {broaching};
\node[boxoff, minimum width=70pt] (f2dr) at (1510,566) {drilling};
\coordinate (f2in) at (1284,566);
\coordinate (f2j1) at (1358,566);
\coordinate (f2j2) at (1461,566);
\draw[gla] (f2in) -- (f2la.west);
\draw[bla] (f2la.east) -- (f2br.west);
\draw[gla] (f2br.east) -- (f2dr.west);
\draw[grl] (f2j1 |- f2lp.south) -- (f2j1);
\draw[brnl] (f2j2 |- f2bc.south) -- (f2j2);
\fill[gbord] (f2j1) circle (3.5pt);
\fill[brn] (f2j2) circle (3.5pt);
% row 3
\node[tagoff, minimum width=97pt] (f3lp) at (1339.5,599) {lathed part};
\node[tagoff, minimum width=98pt] (f3bc) at (1462,599) {broached c.};
\node[boxoff, minimum width=55pt] (f3la) at (1321.5,626.5) {lathe};
\node[boxoff, minimum width=82pt] (f3br) at (1412,626.5) {broaching};
\node[boxon, minimum width=70pt] (f3dr) at (1510,626.5) {drilling};
\coordinate (f3in) at (1284,626.5);
\coordinate (f3j1) at (1358,626.5);
\coordinate (f3j2) at (1461,626.5);
\draw[gla] (f3in) -- (f3la.west);
\draw[gla] (f3la.east) -- (f3br.west);
\draw[bla] (f3br.east) -- (f3dr.west);
\draw[grl] (f3j1 |- f3lp.south) -- (f3j1);
\draw[grl] (f3j2 |- f3bc.south) -- (f3j2);
\fill[gbord] (f3j1) circle (3.5pt);
\fill[gbord] (f3j2) circle (3.5pt);

% ---------- B row
\draw[hdr, line width=1.2pt, fill=bgA] (25,697) rectangle (292,903);
\draw[hdr, line width=1.2pt, fill=bgB] (305,697) rectangle (632,903);
\draw[hdr, line width=1.2pt, fill=bgC] (647,697) rectangle (970,903);
\draw[hdr, line width=1.2pt, fill=bgD] (983,697) rectangle (1254,903);
\draw[hdr, line width=1.2pt, fill=bgE] (1268,697) rectangle (1565,903);
% B1
\foreach \yy in {770,801,831,861}{
  \draw[cbd, line width=1.2pt] (56,\yy) -- (260,\yy);
  \foreach \xx/\cc/\bb in {74/cblue/cbd,102/ctan/cbd,130/cgray/lgray,158/cgray/lgray,186/cgray/lgray,214/cgray/lgray,241/cgray/lgray}
    \draw[draw=\bb, line width=1.1pt, fill=\cc] (\xx,\yy) ellipse (12pt and 13.5pt);
}
% B2
\draw[cbd, line width=1.5pt] (433,752) -- (561,752);
\draw[lgray, line width=1pt, fill=cgray] (496,740) ellipse (7pt and 8.5pt);
\foreach \yy in {769,800,830,860}{
  \draw[cbd, line width=1.2pt] (367,\yy) -- (571,\yy);
  \foreach \xx/\cc in {385/cblue,413/ctan,441/clb,469/cslate,497/white,524/cpur,552/cgold}
    \draw[draw=cbd, line width=1.1pt, fill=\cc] (\xx,\yy) ellipse (12pt and 13.5pt);
}
% B3
\foreach \yy in {750,774,799}{
  \draw[cbd, line width=1.2pt] (754,\yy) -- (830,\yy);
  \foreach \xx/\cc in {766/cblue,791/ctan,816/clb}
    \draw[draw=cbd, line width=1.1pt, fill=\cc] (\xx,\yy) ellipse (10.5pt and 12pt);
}
\foreach \yy in {832,860}{
  \draw[cbd, line width=1.2pt] (712,\yy) -- (870,\yy);
  \fill[cbd] (786,\yy-3.5) -- (793,\yy) -- (786,\yy+3.5) -- cycle;
  \foreach \xx/\cc in {726/cblue,751/ctan,777/clb,803/cblue,829/ctan,855/clb}
    \draw[draw=cbd, line width=1.1pt, fill=\cc] (\xx,\yy) ellipse (10.5pt and 12pt);
}
% B4
\foreach \yy in {749,802,836,875}{\draw[cbd, line width=1.2pt] (1002,\yy) -- (1238,\yy);}
\foreach \xx/\ty in {1018/790,1043/790,1068/790,1096/824,1121/824,1146/824,1172/863,1197/863,1222/863}
  \draw[cbd, line width=0.7pt, densely dashed, -{Triangle[length=4pt,width=4pt]}] (\xx,761) -- (\xx,\ty);
\foreach \xx/\cc in {1018/cblue,1043/ctan,1068/clb,1096/cblue,1121/ctan,1146/clb,1172/cblue,1197/ctan,1222/clb}
  \draw[draw=cbd, line width=1.1pt, fill=\cc] (\xx,749) ellipse (10.5pt and 12pt);
\foreach \xx/\cc in {1018/cblue,1043/ctan,1068/clb}
  \draw[draw=cbd, line width=1.1pt, fill=\cc] (\xx,802) ellipse (10.5pt and 12pt);
\foreach \xx/\cc in {1096/cblue,1121/ctan,1146/clb}
  \draw[draw=cbd, line width=1.1pt, fill=\cc] (\xx,836) ellipse (10.5pt and 12pt);
\foreach \xx/\cc in {1172/cblue,1197/ctan,1222/clb}
  \draw[draw=cbd, line width=1.1pt, fill=\cc] (\xx,875) ellipse (10.5pt and 12pt);
% B5
\foreach \xx in {1369,1457}{\draw[cbd, line width=0.7pt, densely dotted] (\xx,727) -- (\xx,894);}
\foreach \yy in {749,801,853}{\draw[cbd, line width=1.5pt] (1278,\yy) -- (1554,\yy);}
\draw[cbd, line width=1.2pt, fill=bgA, rounded corners=5pt] (1283,730) rectangle (1364,770);
\draw[cbd, line width=1.2pt, fill=bgA, rounded corners=5pt] (1371,782) rectangle (1455,822);
\draw[cbd, line width=1.2pt, fill=bgA, rounded corners=5pt] (1461,833) rectangle (1542,873);
\foreach \ox/\oy in {0/0,89/52,178/104}{
  \foreach \xx/\cc in {1306/cblue,1325/ctan,1344/clb}
    \draw[draw=cbd, line width=1pt, fill=\cc] (\xx+\ox,741+\oy) ellipse (8pt and 9.5pt);
  \foreach \xx/\cc in {1294/cslate,1313/white,1333/cpur,1352/cgold}
    \draw[draw=cbd, line width=1pt, fill=\cc] (\xx+\ox,759+\oy) ellipse (8pt and 9.5pt);
}
\end{tikzpicture}
\end{document}
